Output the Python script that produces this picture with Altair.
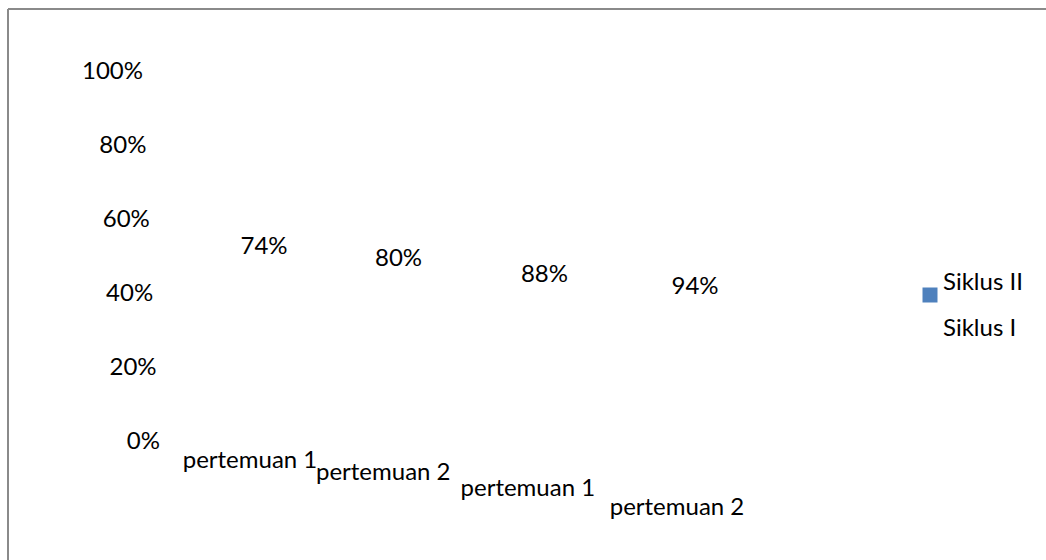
import altair as alt
import pandas as pd

# Scores per meeting, grouped by cycle
series = ["Siklus I", "Siklus I", "Siklus II", "Siklus II"]
meetings = ["pertemuan 1", "pertemuan 2", "pertemuan 1", "pertemuan 2"]
scores = [74, 80, 88, 94]

# Percentage scale ticks
tick_values = [0, 20, 40, 60, 80, 100]
tick_labels = ["0%", "20%", "40%", "60%", "80%", "100%"]

# Legend entries
legend_order = ["Siklus II", "Siklus I"]
legend_colors = ["#4F81BD", "#FFFFFF"]

FONT = "Lato"
FS = 24
INK = "#000000"
FRAME = "#8a8a8a"

bars = pd.DataFrame({"siklus": series, "pertemuan": meetings, "nilai": scores})
bars["key"] = bars["siklus"] + " / " + bars["pertemuan"]
bars["idx"] = range(len(bars))
bars["label"] = bars["nilai"].astype(str) + "%"
keys = list(bars["key"])
last = len(bars) - 1

ticks = pd.DataFrame({"v": tick_values, "label": tick_labels})
one = pd.DataFrame({"k": [0]})

# outer frame (left and top edges)
frame_left = alt.Chart(one).mark_rule(color=FRAME, strokeWidth=2).encode(
    x=alt.value(8), y=alt.value(9), y2=alt.value(560)
)
frame_top = alt.Chart(one).mark_rule(color=FRAME, strokeWidth=2).encode(
    x=alt.value(8), x2=alt.value(1046), y=alt.value(9)
)

# percentage labels of the value axis, slightly slanted
y_labels = alt.Chart(ticks).mark_text(
    align="right", baseline="middle", font=FONT, fontSize=FS, color=INK
).encode(
    x=alt.X("v:Q", scale=alt.Scale(domain=[0, 100], range=[160, 143], nice=False, zero=False), axis=None),
    y=alt.Y("v:Q", scale=alt.Scale(domain=[0, 100], range=[442, 72], nice=False, zero=False), axis=None),
    text="label:N",
)

# bars (not filled) carrying the cycle legend
ghost = alt.Chart(bars).mark_bar(opacity=0).encode(
    x=alt.X("key:N", sort=keys, scale=alt.Scale(type="band", range=[190, 760]), axis=None),
    y=alt.Y("nilai:Q", scale=alt.Scale(domain=[0, 100], range=[442, 72], nice=False), axis=None),
    color=alt.Color(
        "siklus:N",
        scale=alt.Scale(domain=legend_order, range=legend_colors),
        legend=alt.Legend(
            title=None,
            orient="none",
            legendX=918,
            legendY=283,
            symbolType="square",
            symbolSize=225,
            symbolOpacity=1,
            symbolStrokeWidth=0,
            labelFont=FONT,
            labelFontSize=FS,
            labelColor=INK,
            labelBaseline="bottom",
            labelOffset=1,
            rowPadding=14,
            padding=0,
        ),
    ),
)

# depth-like spacing of the categories (gaps widen to the right)
depth_x = dict(type="pow", exponent=1.06, domain=[0, last], nice=False, zero=False)

# value labels
value_labels = alt.Chart(bars).mark_text(
    align="center", baseline="middle", font=FONT, fontSize=FS, color=INK
).encode(
    x=alt.X("idx:Q", scale=alt.Scale(range=[264, 695], **depth_x), axis=None),
    y=alt.Y("nilai:Q", scale=alt.Scale(domain=[74, 94], range=[247, 287], nice=False, zero=False), axis=None),
    text="label:N",
)

# category labels, stepping down to the right
cat_labels = alt.Chart(bars).mark_text(
    align="center", baseline="middle", font=FONT, fontSize=FS, color=INK
).encode(
    x=alt.X("idx:Q", scale=alt.Scale(range=[250, 677], **depth_x), axis=None),
    y=alt.Y(
        "idx:Q",
        scale=alt.Scale(type="pow", exponent=1.25, domain=[0, last], range=[461, 508], nice=False, zero=False),
        axis=None,
    ),
    text="pertemuan:N",
)

chart = (
    alt.layer(frame_left, frame_top, y_labels, ghost, value_labels, cat_labels)
    .resolve_scale(x="independent", y="independent")
    .properties(
        width=1046,
        height=560,
        padding=0,
        autosize=alt.AutoSizeParams(type="none"),
        background="#ffffff",
    )
    .configure_view(stroke=None)
)

chart.save("out.html", embed_options={"renderer": "svg", "actions": False})
